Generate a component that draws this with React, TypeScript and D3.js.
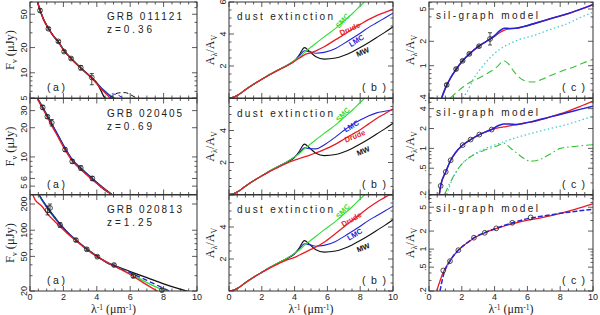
import * as d3 from "d3";

// ---------- layout ----------
const COL_X = [30, 229, 429];
const COL_W = [167, 164, 164];
const ROW_Y = [2, 98.5, 195];
const ROW_H = 96;

const RED = "#e81c24";
const GREEN = "#30dd30";
const BLUE = "#2424d8";
const BLACK = "#111111";
const CYAN = "#40c8d0";
const DGREEN = "#38c038";

// ---------- column (a): flux density, F_nu (uJy) ----------
const grbNames = ["GRB 011121", "GRB 020405", "GRB 020813"];
const grbZ = ["z=0.36", "z=0.69", "z=1.25"];
const sedDomains: [number, number][] = [[5, 70], [4.1, 40], [20, 254]];
const sedLabels = [[5, 10, 20, 50], [5, 6, 10, 20, 30], [20, 50, 100, 200]];

// GRB 011121
const sed1X = [0.45, 0.6, 0.8, 1.1, 1.4, 1.7, 2.04, 2.46, 3.04, 3.5, 3.7, 4.0, 4.3, 4.6, 4.8, 5.0, 5.15];
const sed1Green = [70, 56, 44, 34, 27.6, 23.5, 18.5, 14.9, 11.5, 9.5, 8.8, 7.6, 6.5, 5.8, 5.4, 5.1, 4.9];
const sed1Blue = [70, 56, 44, 34, 27.4, 23.3, 18.3, 14.8, 11.4, 9.5, 8.7, 7.5, 6.5, 5.7, 5.3, 5.0, 4.8];
const sed1Red = [70, 56.5, 44, 34, 27.5, 23.4, 18.4, 14.8, 11.4, 9.4, 8.6, 7.4, 6.3, 5.5, 5.0, 4.7, 4.5];
const sed1BlackX = [0.45, 0.6, 0.8, 1.1, 1.4, 1.7, 2.04, 2.46, 3.04, 3.5, 3.7, 4.0, 4.2, 4.4, 4.55];
const sed1Black = [70, 56, 44, 34, 27.5, 23.4, 18.4, 14.8, 11.4, 9.4, 8.7, 7.5, 6.4, 5.3, 4.8];
const sed1BlackDashX = [4.75, 5.0, 5.3, 5.7, 6.0, 6.3, 6.6];
const sed1BlackDash = [4.9, 5.4, 5.75, 5.8, 5.5, 5.1, 4.7];
const sed1BlueDashX = [4.9, 5.2, 5.5, 5.8];
const sed1BlueDash = [5.6, 5.5, 5.1, 4.8];
const obs1X = [0.6, 1.1, 1.7, 2.04, 2.46, 3.04, 3.7];
const obs1F = [55.5, 33.6, 23.7, 17.9, 14.8, 11.5, 8.8];
const obs1Lo = [53, 32.5, 23, 17.3, 14.3, 10.8, 7.2];
const obs1Hi = [58, 34.7, 24.4, 18.5, 15.3, 12.2, 9.8];

// GRB 020405
const sed2X = [0.46, 0.76, 1.04, 1.3, 1.7, 2.1, 2.53, 3.04, 3.5, 3.73, 4.2, 4.6, 4.9];
const sed2Blue = [40, 32.4, 26.5, 22, 16.5, 12.3, 9.4, 7.7, 6.5, 6.0, 5.1, 4.5, 4.1];
const sed2Green = [40, 32.4, 26.4, 21.9, 16.4, 12.2, 9.4, 7.7, 6.5, 6.0, 5.1, 4.5, 4.15];
const sed2Black = [40, 32.3, 26.4, 21.8, 16.4, 12.2, 9.3, 7.6, 6.4, 5.9, 5.0, 4.4, 4.1];
const sed2Red = [39, 31.5, 25.6, 21, 15.8, 11.8, 9.1, 7.4, 6.3, 5.8, 5.0, 4.45, 4.1];
const obs2X = [0.76, 1.04, 1.3, 2.1, 2.53, 3.04, 3.73];
const obs2F = [32.4, 26, 22.5, 11.9, 9.0, 7.7, 6.0];
const obs2Lo = [31, 25, 20.8, 11.4, 8.6, 7.3, 5.7];
const obs2Hi = [34, 27, 24.3, 12.4, 9.4, 8.1, 6.3];

// GRB 020813
const sed3BlackX = [0.4, 0.55, 1.0, 1.5, 1.8, 2.2, 2.75, 3.4, 4.0, 4.5, 4.8, 5.0, 6.0, 7.0, 8.0, 9.0, 9.45];
const sed3Black = [290, 254, 188, 140, 118, 97, 77, 61, 50.5, 43.5, 40.5, 39.5, 33.5, 28.5, 24.2, 21, 19.8];
const sed3BlueX = [0.4, 0.55, 1.0, 1.5, 1.8, 2.2, 2.75, 3.4, 4.0, 4.5, 5.0];
const sed3Blue = [290, 254, 185, 137, 117, 96, 77, 60.5, 50, 44, 39.5];
const sed3BlueDashX = [5.0, 6.0, 7.0, 8.0, 8.4];
const sed3BlueDash = [39.5, 32.5, 26.5, 21.5, 19.8];
const sed3GreenX = [0.4, 0.55, 1.0, 1.5, 1.8, 2.2, 2.75, 3.4, 4.0, 4.5, 5.0, 6.0, 7.0, 7.5, 8.2];
const sed3Green = [285, 250, 183, 136, 116, 95.5, 76.5, 60.5, 50, 44, 39.2, 31.5, 25, 22.5, 19.8];
const sed3RedX = [0.15, 0.3, 0.7, 1.1, 1.5, 1.8, 2.2, 2.75, 3.4, 4.0, 4.5, 5.0, 5.5, 6.0, 6.5, 7.0, 7.65];
const sed3Red = [260, 225, 190, 150, 125, 110, 93, 76, 60, 50, 44, 39, 35, 31, 27, 23.5, 19.8];
const obs3X = [1.05, 1.2, 1.8, 2.75, 3.4, 4.03, 5.03, 6.19, 7.9];
const obs3F = [170, 180, 115, 77, 60.3, 49.6, 39.8, 29.7, 20.5];
const obs3Lo = [150, 160, 108, 74, 58, 48, 38.5, 28.5, 19.6];
const obs3Hi = [190, 200, 122, 80, 62.5, 51.3, 41, 31, 21.4];

// ---------- column (b): extinction curves A_lambda/A_V ----------
const extX = [0, 0.3, 0.6, 1, 1.5, 2, 2.5, 3, 3.5, 4, 4.3, 4.6, 4.9, 5.3, 5.8, 6.5, 7, 7.5, 8, 8.5, 9, 9.5, 10];
const extMW = [0, 0.06, 0.22, 0.52, 0.86, 1.17, 1.47, 1.74, 2.0, 2.32, 2.72, 3.15, 2.92, 2.58, 2.43, 2.5, 2.66, 2.88, 3.15, 3.45, 3.78, 4.1, 4.45];
const extSMC = [0, 0.06, 0.22, 0.52, 0.86, 1.17, 1.48, 1.76, 2.03, 2.35, 2.58, 2.85, 3.1, 3.42, 3.82, 4.35, 4.8, 5.25, 5.75, 6.25, 6.75, 7.25, 7.8];
const extLMC = [0, 0.06, 0.22, 0.52, 0.86, 1.17, 1.48, 1.75, 2.02, 2.35, 2.65, 2.95, 2.9, 2.8, 2.85, 3.1, 3.4, 3.72, 4.05, 4.4, 4.7, 5.0, 5.3];
const extLMC2 = [0, 0.06, 0.22, 0.52, 0.86, 1.17, 1.48, 1.75, 2.02, 2.35, 2.62, 2.92, 2.86, 2.85, 3.1, 3.6, 4.0, 4.35, 4.65, 4.9, 5.1, 5.2, 5.3];
const extDrude1 = [0, 0.06, 0.22, 0.52, 0.86, 1.17, 1.47, 1.74, 2.0, 2.3, 2.5, 2.7, 2.8, 2.95, 3.2, 3.65, 3.95, 4.3, 4.6, 4.9, 5.15, 5.35, 5.55];
const extDrude2 = [0, 0.06, 0.22, 0.52, 0.86, 1.16, 1.45, 1.7, 1.95, 2.15, 2.25, 2.35, 2.45, 2.6, 2.8, 3.15, 3.45, 3.75, 4.05, 4.4, 4.75, 5.05, 5.35];
const extDrude3 = [0, 0.06, 0.22, 0.52, 0.86, 1.16, 1.45, 1.7, 1.93, 2.1, 2.25, 2.4, 2.55, 2.75, 3.05, 3.6, 4.0, 4.4, 4.8, 5.2, 5.55, 5.85, 6.15];
// curve tags: [x, y, angle] per row, order SMC, Drude, LMC, MW
const tagNames = ["SMC", "Drude", "LMC", "MW"];
const tagColors = [GREEN, RED, BLUE, BLACK];
const tagPos: [number, number, number][][] = [
  [[6.95, 4.8, -48], [7.38, 4.28, -24], [7.79, 3.55, -32], [8.17, 2.84, -22]],
  [[6.97, 4.97, -48], [7.68, 3.61, -22], [7.48, 4.24, -30], [8.19, 2.68, -22]],
  [[6.97, 4.96, -48], [7.48, 4.44, -30], [7.68, 3.5, -30], [8.19, 2.67, -22]],
];

// ---------- column (c): silicate-graphite model ----------
const sgDomains: [number, number][] = [[0.4, 6.1], [0.2, 5.7], [0.2, 8]];
const sgLabels = [[0.4, 1, 2, 5], [0.2, 0.5, 1, 2, 4], [0.2, 0.5, 1, 2, 5]];

const sg1X = [0.77, 1.0, 1.3, 1.65, 2.0, 2.5, 3.0, 3.5, 4.0, 4.3, 4.6, 4.9, 5.3, 5.8, 6.5, 7.5, 8.5, 9.5, 10];
const sg1Blue = [0.4, 0.53, 0.7, 0.9, 1.12, 1.42, 1.72, 2.0, 2.35, 2.68, 2.9, 2.88, 2.9, 3.05, 3.35, 3.85, 4.4, 5.2, 5.7];
const sg1Red = [0.4, 0.53, 0.7, 0.9, 1.12, 1.42, 1.72, 2.0, 2.3, 2.55, 2.75, 2.85, 2.9, 3.05, 3.35, 3.85, 4.4, 5.15, 5.6];
const sg1SilX = [2.05, 2.3, 2.7, 3.3, 3.8, 4.33, 5.0, 5.5, 6.36, 7.4, 8.4, 9.2, 10];
const sg1Sil = [0.4, 0.47, 0.68, 1.0, 1.3, 1.6, 1.9, 2.1, 2.35, 2.8, 3.28, 3.9, 4.57];
const sg1GraX = [1.3, 2.3, 3.3, 3.8, 4.13, 4.57, 4.85, 5.14, 5.5, 5.96, 6.36, 6.9, 7.38, 8.1, 8.8, 9.4, 10];
const sg1Gra = [0.4, 0.59, 0.75, 0.86, 0.96, 1.15, 1.05, 0.87, 0.72, 0.64, 0.63, 0.68, 0.75, 0.86, 0.96, 1.08, 1.2];
const ext1X = [1.08, 1.65, 2.05, 2.46, 3.05, 3.72];
const ext1V = [0.58, 0.91, 1.15, 1.4, 1.74, 2.14];
const ext1Lo = [0.56, 0.88, 1.12, 1.36, 1.69, 1.8];
const ext1Hi = [0.6, 0.94, 1.18, 1.44, 1.79, 2.55];

const sg2X = [0.63, 0.71, 1.02, 1.32, 1.6, 2.05, 2.54, 3.07, 3.5, 3.82, 4.2, 4.55, 4.9, 5.35, 5.8, 6.36, 7.4, 8.4, 9.2, 10];
const sg2Blue = [0.2, 0.27, 0.44, 0.66, 0.85, 1.12, 1.36, 1.62, 1.8, 1.93, 2.2, 2.35, 2.35, 2.3, 2.4, 2.58, 3.0, 3.46, 3.9, 4.36];
const sg2Red = [0.2, 0.27, 0.44, 0.66, 0.85, 1.12, 1.36, 1.62, 1.8, 1.93, 2.05, 2.11, 2.2, 2.3, 2.42, 2.55, 3.0, 3.6, 4.3, 5.2];
const sg2SilX = [1.08, 1.4, 1.9, 2.5, 3.3, 4.33, 5.3, 6.36, 7.4, 8.4, 9.2, 10];
const sg2Sil = [0.2, 0.33, 0.54, 0.74, 0.96, 1.2, 1.45, 1.72, 2.0, 2.3, 2.65, 3.06];
const sg2GraX = [0.95, 1.28, 1.8, 2.3, 2.9, 3.5, 4.1, 4.57, 4.95, 5.35, 5.8, 6.16, 6.5, 6.77, 7.4, 8.0, 9.0, 10];
const sg2Gra = [0.2, 0.3, 0.5, 0.68, 0.84, 0.96, 1.08, 1.2, 1.02, 0.85, 0.7, 0.64, 0.65, 0.68, 0.82, 1.0, 1.08, 1.14];
const ext2X = [0.71, 1.02, 1.32, 2.05, 2.54, 3.07, 3.82];
const ext2V = [0.27, 0.44, 0.66, 1.12, 1.36, 1.62, 1.93];

const sg3RedX = [0.47, 0.87, 1.28, 1.79, 2.3, 2.74, 3.4, 4.33, 5.08, 6.2, 6.77, 8, 9, 10];
const sg3Red = [0.2, 0.41, 0.64, 0.96, 1.25, 1.52, 1.87, 2.3, 2.65, 3.1, 3.3, 3.95, 4.7, 5.7];
const sg3BlueX = [0.67, 0.87, 1.28, 1.79, 2.3, 2.74, 3.4, 4.1, 5.08, 6.2, 6.77, 8, 9, 10];
const sg3Blue = [0.2, 0.36, 0.63, 0.96, 1.26, 1.55, 1.88, 2.22, 2.75, 3.3, 3.5, 3.95, 4.3, 4.6];
const ext3X = [0.87, 1.28, 1.79, 2.74, 3.4, 4.1, 5.08, 6.2];
const ext3V = [0.44, 0.63, 0.96, 1.55, 1.87, 2.22, 2.75, 3.38];

const xMajor = [0, 2, 4, 6, 8, 10];

// ---------- types ----------
type Series = { xs: number[]; ys: number[]; color: string; dash?: string; width?: number };
type Obs = { xs: number[]; ys: number[]; lo?: number[]; hi?: number[] };
type Note = { text: string; dx: number; dy: number; size: number; len?: number };
type Tag = { text: string; x: number; y: number; angle: number; color: string };

interface PanelProps {
  col: number;
  row: number;
  log: boolean;
  domain: [number, number];
  labels: number[];
  series: Series[];
  obs?: Obs;
  notes: Note[];
  tags?: Tag[];
}

const fmt = (v: number) => (v < 1 ? String(v).replace(/^0/, "") : String(v));
const SANS = "'Liberation Sans', Arial, sans-serif";
const SERIF = "'Liberation Serif', 'Times New Roman', serif";

function Panel({ col, row, log, domain, labels, series, obs, notes, tags }: PanelProps) {
  const x0 = COL_X[col];
  const w = COL_W[col];
  const y0 = ROW_Y[row];
  const h = ROW_H;
  const xs = d3.scaleLinear().domain([0, 10]).range([x0, x0 + w]);
  const ys = log
    ? d3.scaleLog().domain(domain).range([y0 + h, y0])
    : d3.scaleLinear().domain(domain).range([y0 + h, y0]);
  const yMinor = log ? (ys as d3.ScaleLogarithmic<number, number>).ticks() : d3.range(0, 6.01, 0.5);
  const xMinor = d3.range(0, 10.01, 0.5);
  const clipId = `clip-${col}-${row}`;
  const lineGen = d3.line().curve(d3.curveMonotoneX);

  const pathFor = (s: Series) => {
    const pts: [number, number][] = s.xs.map((x, i) => [xs(x), ys(s.ys[i])]);
    return lineGen(pts) ?? "";
  };

  const tickStroke = "#333";
  return (
    <g>
      <defs>
        <clipPath id={clipId}>
          <rect x={x0} y={y0} width={w} height={h} />
        </clipPath>
      </defs>
      {/* x ticks, inward from top and bottom */}
      {xMinor.map((v) => {
        const big = xMajor.includes(v);
        const L = big ? 5 : 2.5;
        return (
          <g key={`xt${v}`} stroke={tickStroke} strokeWidth={0.8}>
            <line x1={xs(v)} x2={xs(v)} y1={y0 + h} y2={y0 + h - L} />
            <line x1={xs(v)} x2={xs(v)} y1={y0} y2={y0 + L} />
          </g>
        );
      })}
      {/* y ticks */}
      {yMinor.map((v) => {
        const big = log ? labels.includes(v) : v % 2 === 0;
        const L = big ? 5 : 2.5;
        const yy = ys(v);
        return (
          <g key={`yt${v}`} stroke={tickStroke} strokeWidth={0.8}>
            <line x1={x0} x2={x0 + L} y1={yy} y2={yy} />
            <line x1={x0 + w} x2={x0 + w - L} y1={yy} y2={yy} />
          </g>
        );
      })}
      {/* y tick labels */}
      {labels.map((v) => (
        <text
          key={`yl${v}`}
          transform={`translate(${x0 - 3},${ys(v)}) rotate(-90)`}
          textAnchor="middle"
          fontSize={9}
          fontFamily={SANS}
          fill="#222"
        >
          {fmt(v)}
        </text>
      ))}
      {/* x tick labels on the bottom row */}
      {row === 2 &&
        xMajor.map((v) => (
          <text key={`xl${v}`} x={xs(v)} y={300} textAnchor="middle" fontSize={9} fontFamily={SANS} fill="#222">
            {v}
          </text>
        ))}
      <g clipPath={`url(#${clipId})`} fill="none">
        {series.map((s, i) => (
          <path
            key={i}
            d={pathFor(s)}
            stroke={s.color}
            strokeWidth={s.width ?? 1.3}
            strokeDasharray={s.dash}
          />
        ))}
      </g>
      {obs &&
        obs.xs.map((x, i) => (
          <g key={`o${i}`} stroke="#222" strokeWidth={0.8} fill="none">
            {obs.lo && obs.hi && (
              <>
                <line x1={xs(x)} x2={xs(x)} y1={ys(obs.lo[i])} y2={ys(obs.hi[i])} />
                <line x1={xs(x) - 2} x2={xs(x) + 2} y1={ys(obs.lo[i])} y2={ys(obs.lo[i])} />
                <line x1={xs(x) - 2} x2={xs(x) + 2} y1={ys(obs.hi[i])} y2={ys(obs.hi[i])} />
              </>
            )}
            <circle cx={xs(x)} cy={ys(obs.ys[i])} r={2.4} />
          </g>
        ))}
      {tags &&
        tags.map((t) => (
          <text
            key={t.text}
            transform={`translate(${xs(t.x)},${ys(t.y)}) rotate(${t.angle})`}
            textAnchor="middle"
            dominantBaseline="middle"
            fontSize={7.5}
            fontWeight="bold"
            fontFamily={SANS}
            fill={t.color}
          >
            {t.text}
          </text>
        ))}
      {notes.map((n, i) => (
        <text
          key={`n${i}`}
          x={x0 + n.dx}
          y={y0 + n.dy}
          fontSize={n.size}
          fontFamily={SANS}
          fill="#222"
          textLength={n.len}
          lengthAdjust="spacing"
        >
          {n.text}
        </text>
      ))}
      <rect x={x0} y={y0} width={w} height={h} fill="none" stroke="#333" strokeWidth={1} />
    </g>
  );
}

export default function App() {
  const sedSeries: Series[][] = [
    [
      { xs: sed1X, ys: sed1Green, color: GREEN },
      { xs: sed1X, ys: sed1Blue, color: BLUE },
      { xs: sed1BlackX, ys: sed1Black, color: BLACK },
      { xs: sed1X, ys: sed1Red, color: RED },
      { xs: sed1BlackDashX, ys: sed1BlackDash, color: BLACK, dash: "5,3", width: 1 },
      { xs: sed1BlueDashX, ys: sed1BlueDash, color: BLUE, dash: "4,3", width: 1 },
    ],
    [
      { xs: sed2X, ys: sed2Black, color: BLACK },
      { xs: sed2X, ys: sed2Green, color: GREEN },
      { xs: sed2X, ys: sed2Blue, color: BLUE },
      { xs: sed2X, ys: sed2Red, color: RED },
    ],
    [
      { xs: sed3BlackX, ys: sed3Black, color: BLACK },
      { xs: sed3GreenX, ys: sed3Green, color: GREEN },
      { xs: sed3BlueX, ys: sed3Blue, color: BLUE },
      { xs: sed3BlueDashX, ys: sed3BlueDash, color: BLUE, dash: "5,3" },
      { xs: sed3RedX, ys: sed3Red, color: RED },
    ],
  ];
  const sedObs: Obs[] = [
    { xs: obs1X, ys: obs1F, lo: obs1Lo, hi: obs1Hi },
    { xs: obs2X, ys: obs2F, lo: obs2Lo, hi: obs2Hi },
    { xs: obs3X, ys: obs3F, lo: obs3Lo, hi: obs3Hi },
  ];
  const lmcRows = [extLMC, extLMC2, extLMC];
  const drudeRows = [extDrude1, extDrude2, extDrude3];
  const sgSeries: Series[][] = [
    [
      { xs: sg1SilX, ys: sg1Sil, color: CYAN, dash: "1.5,2.5", width: 1.2 },
      { xs: sg1GraX, ys: sg1Gra, color: DGREEN, dash: "7,4", width: 1.1 },
      { xs: sg1X, ys: sg1Red, color: RED },
      { xs: sg1X, ys: sg1Blue, color: BLUE, width: 1.6 },
    ],
    [
      { xs: sg2SilX, ys: sg2Sil, color: CYAN, dash: "1.5,2.5", width: 1.2 },
      { xs: sg2GraX, ys: sg2Gra, color: DGREEN, dash: "7,3,1.5,3", width: 1.1 },
      { xs: sg2X, ys: sg2Red, color: RED },
      { xs: sg2X, ys: sg2Blue, color: BLUE, width: 1.5 },
    ],
    [
      { xs: sg3RedX, ys: sg3Red, color: RED },
      { xs: sg3BlueX, ys: sg3Blue, color: BLUE, dash: "5,2", width: 1.5 },
    ],
  ];
  const sgObs: Obs[] = [
    { xs: ext1X, ys: ext1V, lo: ext1Lo, hi: ext1Hi },
    { xs: ext2X, ys: ext2V },
    { xs: ext3X, ys: ext3V },
  ];

  const rows = [0, 1, 2];
  return (
    <div style={{ position: "absolute", left: 0, top: 0 }}>
      <svg width={600} height={315} style={{ display: "block", background: "#fff" }}>
        {rows.map((r) => (
          <g key={`r${r}`}>
            <Panel
              col={0}
              row={r}
              log
              domain={sedDomains[r]}
              labels={sedLabels[r]}
              series={sedSeries[r]}
              obs={sedObs[r]}
              notes={[
                { text: grbNames[r], dx: 77, dy: 18, size: 10, len: 75 },
                { text: grbZ[r], dx: 77, dy: 31, size: 10, len: 45 },
                { text: "(a)", dx: 17, dy: 89, size: 10.5, len: 18 },
              ]}
            />
            <Panel
              col={1}
              row={r}
              log={false}
              domain={[0, 6]}
              labels={r === 0 ? [0, 2, 4, 6] : [0, 2, 4]}
              series={[
                { xs: extX, ys: extMW, color: BLACK, width: 1.1 },
                { xs: extX, ys: lmcRows[r], color: BLUE, width: 1.1 },
                { xs: extX, ys: extSMC, color: GREEN, width: 1.1 },
                { xs: extX, ys: drudeRows[r], color: RED, width: 1.3 },
              ]}
              tags={tagNames.map((t, i) => ({
                text: t,
                x: tagPos[r][i][0],
                y: tagPos[r][i][1],
                angle: tagPos[r][i][2],
                color: tagColors[i],
              }))}
              notes={[
                { text: "dust extinction", dx: 8, dy: 18, size: 10, len: 96 },
                { text: "(b)", dx: 133, dy: 89, size: 10.5, len: 24 },
              ]}
            />
            <Panel
              col={2}
              row={r}
              log
              domain={sgDomains[r]}
              labels={sgLabels[r]}
              series={sgSeries[r]}
              obs={sgObs[r]}
              notes={[
                { text: "sil-graph model", dx: 7, dy: 17, size: 10, len: 102 },
                { text: "(c)", dx: 133, dy: 89, size: 10.5, len: 23 },
              ]}
            />
            {/* y titles */}
            <text
              transform={`translate(14,${ROW_Y[r] + ROW_H / 2}) rotate(-90)`}
              textAnchor="middle"
              fontSize={12.5}
              fontFamily={SERIF}
              fill="#222"
            >
              F<tspan fontSize={8} dy={2.5}>ν</tspan>
              <tspan dy={-2.5}> (μJy)</tspan>
            </text>
            {[1, 2].map((c) => (
              <text
                key={`at${c}`}
                transform={`translate(${COL_X[c] - 15},${ROW_Y[r] + ROW_H / 2}) rotate(-90)`}
                textAnchor="middle"
                fontSize={12}
                fontFamily={SERIF}
                fill="#222"
              >
                A<tspan fontSize={8} dy={2.5}>λ</tspan>
                <tspan dy={-2.5}>/A</tspan>
                <tspan fontSize={8} dy={2.5}>V</tspan>
              </text>
            ))}
          </g>
        ))}
        {/* x titles */}
        {[0, 1, 2].map((c) => (
          <text
            key={`xt${c}`}
            x={COL_X[c] + COL_W[c] / 2}
            y={313}
            textAnchor="middle"
            fontSize={12}
            fontFamily={SERIF}
            fill="#222"
          >
            λ<tspan fontSize={7.5} dy={-3.5}>-1</tspan>
            <tspan dy={3.5}>  (μm</tspan>
            <tspan fontSize={7.5} dy={-3.5}>-1</tspan>
            <tspan dy={3.5}>)</tspan>
          </text>
        ))}
      </svg>
    </div>
  );
}
